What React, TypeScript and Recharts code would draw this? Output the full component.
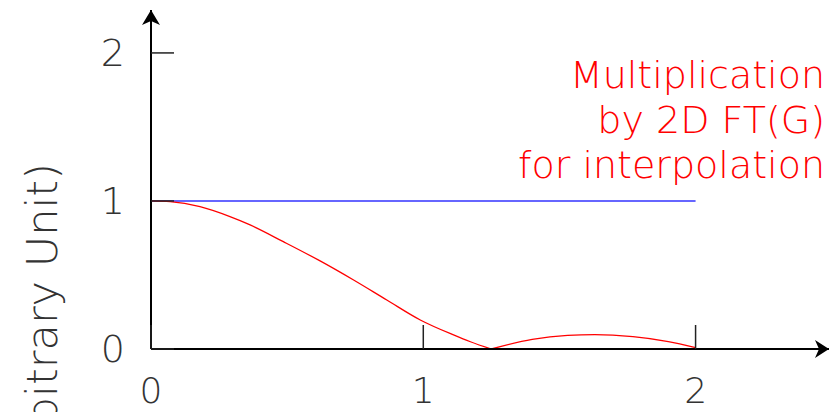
import React from 'react';
import { LineChart, Line, XAxis, YAxis, ReferenceDot } from 'recharts';

// axis extents (arrow tips sit at the domain maxima)
const X_MAX = 2.49;
const Y_MAX = 2.29;
const xTicks = [0, 1, 2];
const yTicks = [0, 1, 2];

// flat response (blue)
const flatX = [0, 2];
const flatY = [1, 1];

// interpolation filter response (red), main lobe and side lobe
const mainX = [0, 0.07, 0.18, 0.29, 0.364, 0.486, 0.621, 0.744, 0.866, 0.989, 1.111, 1.173, 1.25];
const mainY = [1, 0.995, 0.961, 0.894, 0.838, 0.725, 0.595, 0.466, 0.331, 0.196, 0.095, 0.049, 0];
const sideX = [1.25, 1.4, 1.53, 1.63, 1.77, 1.9, 2.0];
const sideY = [0, 0.065, 0.092, 0.097, 0.083, 0.05, 0.01];

const noteLines = ['Multiplication', 'by 2D FT(G)', 'for interpolation'];
const yLabel = '(Arbitrary Unit)';

const FONT = '"DejaVu Sans", sans-serif';
const X_GAP = 29;
const Y_GAP = 26;

const toPts = (xs: number[], ys: number[]) => xs.map((x, i) => ({ x, y: ys[i] }));

const XTick = (props: any) => {
  const { x, y, payload } = props;
  return (
    <g>
      <line x1={x} x2={x} y1={y - X_GAP} y2={y - X_GAP - 24} stroke="#222" strokeWidth={1.5} />
      <text x={x} y={y + 25} textAnchor="middle" fontFamily={FONT} fontWeight={200} fontSize={36} fill="#333">
        {payload.value}
      </text>
    </g>
  );
};

const YTick = (props: any) => {
  const { x, y, payload } = props;
  return (
    <g>
      <line x1={x + Y_GAP} x2={x + Y_GAP + 23} y1={y} y2={y} stroke="#222" strokeWidth={1.5} />
      <text x={x} y={y} dy="0.355em" textAnchor="end" fontFamily={FONT} fontWeight={200} fontSize={38} fill="#333">
        {payload.value}
      </text>
    </g>
  );
};

const RightArrow = (p: any) => (
  <polygon points={`${p.cx},${p.cy} ${p.cx - 14},${p.cy - 9} ${p.cx - 10},${p.cy} ${p.cx - 14},${p.cy + 9}`} fill="#000" />
);
const UpArrow = (p: any) => (
  <polygon points={`${p.cx},${p.cy} ${p.cx - 9},${p.cy + 15} ${p.cx},${p.cy + 11} ${p.cx + 9},${p.cy + 15}`} fill="#000" />
);

export default function App() {
  return (
    <div style={{ position: 'fixed', left: 0, top: 0, width: 829, height: 412, background: '#fff' }}>
      <LineChart width={829} height={412} margin={{ top: 10, right: 0, bottom: 0, left: 0 }}>
        <XAxis
          type="number"
          dataKey="x"
          domain={[0, X_MAX]}
          ticks={xTicks}
          height={63}
          allowDataOverflow
          axisLine={{ stroke: '#000', strokeWidth: 2 }}
          tickLine={false}
          tickSize={0}
          tickMargin={X_GAP}
          tick={<XTick />}
        />
        <YAxis
          type="number"
          dataKey="y"
          domain={[0, Y_MAX]}
          ticks={yTicks}
          width={151}
          allowDataOverflow
          axisLine={{ stroke: '#000', strokeWidth: 2 }}
          tickLine={false}
          tickSize={0}
          tickMargin={Y_GAP}
          tick={<YTick />}
        />
        <Line data={toPts(flatX, flatY)} dataKey="y" type="linear" stroke="#6666ff" strokeWidth={2} dot={false} isAnimationActive={false} />
        <Line data={toPts(mainX, mainY)} dataKey="y" type="monotone" stroke="#ff0000" strokeWidth={1.3} dot={false} isAnimationActive={false} />
        <Line data={toPts(sideX, sideY)} dataKey="y" type="monotone" stroke="#ff0000" strokeWidth={1.3} dot={false} isAnimationActive={false} />
        <ReferenceDot x={X_MAX} y={0} ifOverflow="visible" shape={RightArrow} />
        <ReferenceDot x={0} y={Y_MAX} ifOverflow="visible" shape={UpArrow} />
      </LineChart>
      <svg width={829} height={412} style={{ position: 'absolute', left: 0, top: 0, pointerEvents: 'none' }}>
        <text
          x={57}
          y={163}
          transform="rotate(-90 57 163)"
          textAnchor="end"
          fontFamily={FONT}
          fontWeight={200}
          fontSize={43}
          fill="#333"
        >
          {yLabel}
        </text>
        {noteLines.map((t, i) => (
          <text key={t} x={825} y={88 + i * 45} textAnchor="end" fontFamily={FONT} fontWeight={200} fontSize={38} fill="#ff0000">
            {t}
          </text>
        ))}
      </svg>
    </div>
  );
}
